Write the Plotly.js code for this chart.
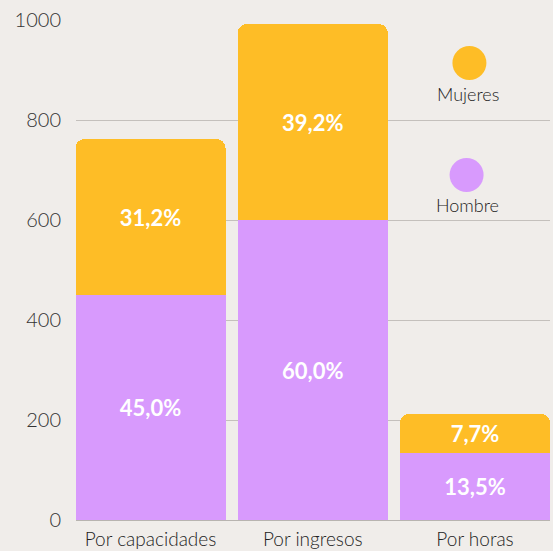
<!DOCTYPE html>
<html>
<head>
<meta charset="utf-8">
<script src="https://cdn.plot.ly/plotly-3.0.1.min.js"></script>
<style>
  html, body { margin: 0; padding: 0; background: #f0edea; }
  #chart { width: 553px; height: 551px; }
</style>
</head>
<body>
<div id="chart"></div>
<script>
// Data (values are pct * 10)
const categories = ["Por capacidades", "Por ingresos", "Por horas"];
const hombreValues = [450, 600, 135];
const mujeresValues = [312, 392, 77];
const yTicks = [0, 200, 400, 600, 800, 1000];

const FONT = "Lato, 'Open Sans', sans-serif";
const YELLOW = "#febd26";
const PURPLE = "#d89afd";

function pctLabel(v) {
    return (v / 10).toFixed(1).replace(".", ",") + "%";
}

const common = {
    type: "bar",
    x: categories,
    textposition: "inside",
    insidetextanchor: "middle",
    textangle: 0,
    constraintext: "none",
    textfont: { family: FONT, size: 22, color: "#ffffff", weight: 700 },
    hoverinfo: "skip",
    showlegend: false
};

const hombre = Object.assign({}, common, {
    name: "Hombre",
    y: hombreValues,
    text: hombreValues.map(pctLabel),
    marker: { color: PURPLE }
});

const mujeres = Object.assign({}, common, {
    name: "Mujeres",
    y: mujeresValues,
    text: mujeresValues.map(pctLabel),
    marker: { color: YELLOW }
});

const layout = {
    width: 553,
    height: 551,
    barmode: "stack",
    bargap: 0.075,
    barcornerradius: 9,
    paper_bgcolor: "#f0edea",
    plot_bgcolor: "#f0edea",
    margin: { l: 76, r: 3, t: 20, b: 31, pad: 0 },
    font: { family: FONT, color: "#333333" },
    xaxis: {
        range: [-0.459, 2.462],
        showgrid: false,
        zeroline: false,
        showline: false,
        ticks: "",
        ticklabelstandoff: 6,
        tickfont: { family: FONT, size: 19, color: "#222222", weight: 300 },
        fixedrange: true
    },
    yaxis: {
        range: [0, 1000],
        tickvals: yTicks,
        ticktext: yTicks.map(String),
        showgrid: true,
        gridcolor: "#c4c0bc",
        gridwidth: 1,
        zeroline: true,
        zerolinecolor: "#b8b4b0",
        zerolinewidth: 1,
        ticks: "",
        ticklabelstandoff: 14,
        tickfont: { family: FONT, size: 20, color: "#333333", weight: 300 },
        fixedrange: true
    },
    shapes: [
        {
            type: "circle", xref: "paper", yref: "paper",
            xsizemode: "pixel", ysizemode: "pixel",
            xanchor: 0.83, yanchor: 0.914,
            x0: -17, x1: 17, y0: -17, y1: 17,
            fillcolor: YELLOW, line: { width: 0 }
        },
        {
            type: "circle", xref: "paper", yref: "paper",
            xsizemode: "pixel", ysizemode: "pixel",
            xanchor: 0.824, yanchor: 0.69,
            x0: -17, x1: 17, y0: -17, y1: 17,
            fillcolor: PURPLE, line: { width: 0 }
        }
    ],
    annotations: [
        {
            text: "Mujeres", xref: "paper", yref: "paper",
            x: 0.828, y: 0.852, xanchor: "center", yanchor: "middle",
            showarrow: false, font: { family: FONT, size: 18, color: "#222222", weight: 300 }
        },
        {
            text: "Hombre", xref: "paper", yref: "paper",
            x: 0.826, y: 0.63, xanchor: "center", yanchor: "middle",
            showarrow: false, font: { family: FONT, size: 18, color: "#222222", weight: 300 }
        }
    ]
};

Plotly.newPlot("chart", [hombre, mujeres], layout, { displayModeBar: false, staticPlot: true });
</script>
</body>
</html>
